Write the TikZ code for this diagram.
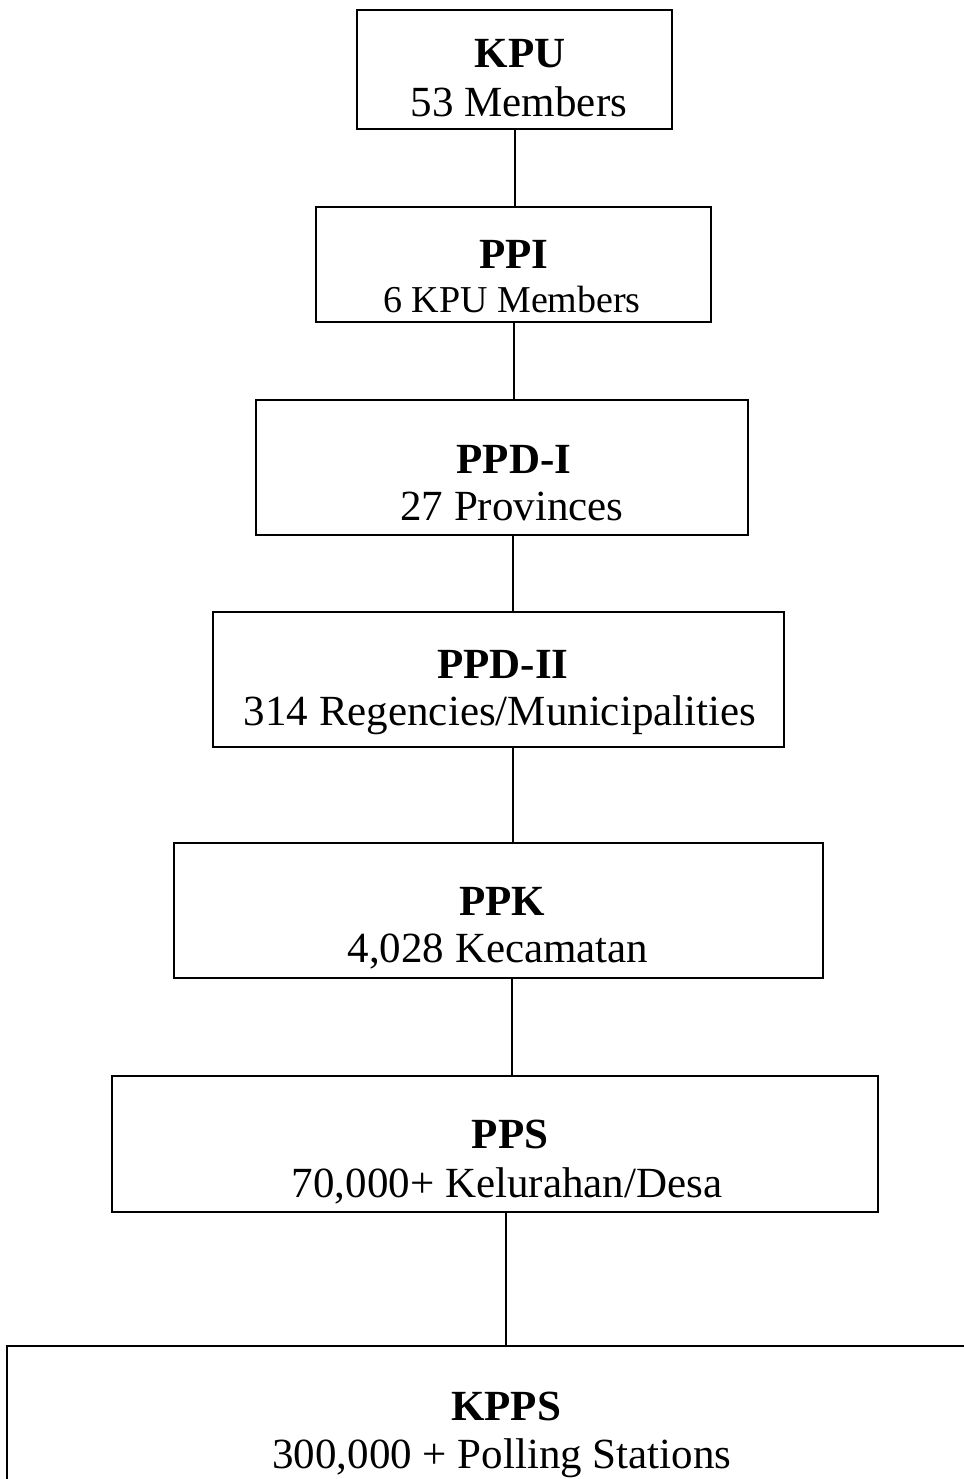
\documentclass[tikz,border=0pt]{standalone}
\usepackage{fontspec}
\setmainfont{Liberation Serif}
\begin{document}
\begin{tikzpicture}[x=1pt,y=-1pt,
  box/.style={draw=black, line width=1.6pt, rectangle, inner sep=0pt},
  ttl/.style={anchor=base, inner sep=0pt, font=\fontsize{43}{49}\selectfont\bfseries},
  sub/.style={anchor=base, inner sep=0pt, font=\fontsize{43}{49}\selectfont},
  subs/.style={anchor=base, inner sep=0pt, font=\fontsize{38}{44}\selectfont},
  conn/.style={draw=black, line width=1.6pt}]
\useasboundingbox (0,0) rectangle (963,1479);
% boxes
\node[box, minimum width=315pt, minimum height=119pt] (kpu) at (514.5,69.5) {};
\node[box, minimum width=395pt, minimum height=115pt] (ppi) at (513.5,264.5) {};
\node[box, minimum width=492pt, minimum height=135pt] (ppd1) at (502,467.5) {};
\node[box, minimum width=571pt, minimum height=135pt] (ppd2) at (498.5,679.5) {};
\node[box, minimum width=649pt, minimum height=135pt] (ppk) at (498.5,910.5) {};
\node[box, minimum width=766pt, minimum height=136pt] (pps) at (495,1144) {};
\node[box, minimum width=993pt, minimum height=214pt] (kpps) at (503.5,1453) {};
% texts
\node[ttl] (kpuT) at (520,68) {KPU};
\node[sub] (kpuS) at (519,117) {53 Members};
\node[ttl] (ppiT) at (514,268) {PPI};
\node[subs] (ppiS) at (512,312) {6 KPU Members};
\node[ttl] (ppd1T) at (514,473) {PPD-I};
\node[sub] (ppd1S) at (512,520) {27 Provinces};
\node[ttl] (ppd2T) at (503,678) {PPD-II};
\node[sub] (ppd2S) at (500,725) {314 Regencies/Municipalities};
\node[ttl] (ppkT) at (502,915) {PPK};
\node[sub] (ppkS) at (498,962) {4,028 Kecamatan};
\node[ttl] (ppsT) at (510,1148) {PPS};
\node[sub] (ppsS) at (507,1197) {70,000+ Kelurahan/Desa};
\node[ttl] (kppsT) at (506,1420) {KPPS};
\node[sub] (kppsS) at (502,1468) {300,000 + Polling Stations};
% connectors
\draw[conn] (515,0 |- kpu.south) -- (515,0 |- ppi.north);
\draw[conn] (514,0 |- ppi.south) -- (514,0 |- ppd1.north);
\draw[conn] (513,0 |- ppd1.south) -- (513,0 |- ppd2.north);
\draw[conn] (513,0 |- ppd2.south) -- (513,0 |- ppk.north);
\draw[conn] (512,0 |- ppk.south) -- (512,0 |- pps.north);
\draw[conn] (506,0 |- pps.south) -- (506,0 |- kpps.north);
\end{tikzpicture}
\end{document}
